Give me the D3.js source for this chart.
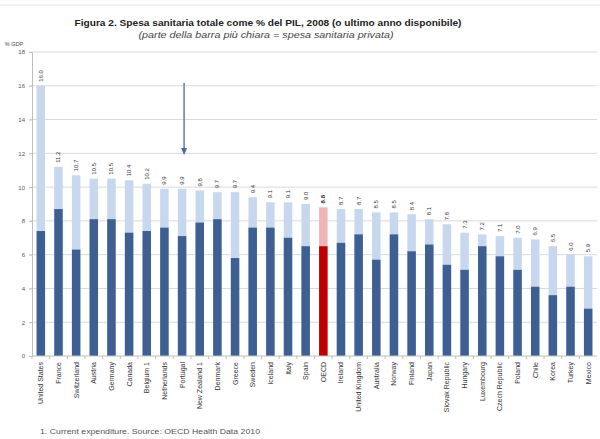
<!DOCTYPE html>
<html><head><meta charset="utf-8">
<script src="https://cdn.jsdelivr.net/npm/d3@7"></script>
<style>body{margin:0;background:#fff}</style>
</head><body>
<svg id="c" width="600" height="439"></svg>
<script>
const countries = ["United States","France","Switzerland","Austria","Germany","Canada","Belgium 1","Netherlands","Portugal","New Zealand 1","Denmark","Greece","Sweden","Iceland","Italy","Spain","OECD","Ireland","United Kingdom","Australia","Norway","Finland","Japan","Slovak Republic","Hungary","Luxembourg","Czech Republic","Poland","Chile","Korea","Turkey","Mexico"];
const totalSpend = [16.0,11.2,10.7,10.5,10.5,10.4,10.2,9.9,9.9,9.8,9.7,9.7,9.4,9.1,9.1,9.0,8.8,8.7,8.7,8.5,8.5,8.4,8.1,7.8,7.3,7.2,7.1,7.0,6.9,6.5,6.0,5.9];
const publicSpend = [7.4,8.7,6.3,8.1,8.1,7.3,7.4,7.6,7.1,7.9,8.1,5.8,7.6,7.6,7.0,6.5,6.5,6.7,7.2,5.7,7.2,6.2,6.6,5.4,5.1,6.5,5.9,5.1,4.1,3.6,4.1,2.8];
const yTicks = [0,2,4,6,8,10,12,14,16,18];
const title = "Figura 2. Spesa sanitaria totale come % del PIL, 2008 (o ultimo anno disponibile)";
const subtitle = "(parte della barra più chiara = spesa sanitaria privata)";
const footnote = "1. Current expenditure.   Source: OECD Health Data 2010";

const svg = d3.select("#c");
const font = "'Liberation Sans', Arial, sans-serif";
const x = d3.scaleBand().domain(countries).range([32, 597]).paddingInner(0.52).paddingOuter(0.26);
const y = d3.scaleLinear().domain([0, 18]).range([356, 52]);

svg.append("line").attr("x1",0).attr("x2",600).attr("y1",5).attr("y2",5).attr("stroke","#e6e6e6");

svg.append("g").selectAll("line").data(yTicks.filter(d=>d>0)).join("line")
  .attr("x1",30).attr("x2",597).attr("y1",d=>y(d)).attr("y2",d=>y(d))
  .attr("stroke","#d9d9d9").attr("stroke-width",1);

const ya = svg.append("g").attr("transform","translate(32,0)")
  .call(d3.axisLeft(y).tickValues(yTicks).tickSize(3).tickFormat(d3.format("d")));
ya.select(".domain").attr("stroke","#bfbfbf");
ya.selectAll(".tick line").attr("stroke","#bfbfbf");
ya.selectAll("text").attr("font-family",font).attr("font-size",6).attr("fill","#555").attr("x",-7);

svg.append("text").attr("x",14).attr("y",46).attr("font-family",font).attr("font-size",5.5)
  .attr("fill","#444").attr("text-anchor","middle").text("% GDP");

const isOECD = d => d === "OECD";
svg.append("g").selectAll("rect").data(countries).join("rect")
  .attr("x",d=>x(d)).attr("width",x.bandwidth())
  .attr("y",(d,i)=>y(totalSpend[i])).attr("height",(d,i)=>y(0)-y(totalSpend[i]))
  .attr("fill",d=>isOECD(d)?"#eeb4b6":"#c6d7ee");
svg.append("g").selectAll("rect").data(countries).join("rect")
  .attr("x",d=>x(d)).attr("width",x.bandwidth())
  .attr("y",(d,i)=>y(publicSpend[i])).attr("height",(d,i)=>y(0)-y(publicSpend[i]))
  .attr("fill",d=>isOECD(d)?"#c00000":"#3e5f92");

svg.append("line").attr("x1",32).attr("x2",597).attr("y1",y(0)).attr("y2",y(0)).attr("stroke","#bfbfbf");
svg.append("g").selectAll("line").data(countries).join("line")
  .attr("x1",d=>x(d)-x.step()*x.paddingInner()/2).attr("x2",d=>x(d)-x.step()*x.paddingInner()/2)
  .attr("y1",y(0)).attr("y2",y(0)+3).attr("stroke","#bfbfbf");

svg.append("g").selectAll("text").data(countries).join("text")
  .attr("transform",(d,i)=>`translate(${x(d)+x.bandwidth()/2+2},${y(totalSpend[i])-4}) rotate(-90)`)
  .attr("font-family",font).attr("font-size",6).attr("fill","#333")
  .attr("font-weight",d=>isOECD(d)?"bold":"normal")
  .text((d,i)=>totalSpend[i].toFixed(1));

svg.append("g").selectAll("text").data(countries).join("text")
  .attr("transform",d=>`translate(${x(d)+x.bandwidth()/2+2.5},${y(0)+6}) rotate(-90)`)
  .attr("text-anchor","end").attr("font-family",font).attr("font-size",7).attr("fill","#333")
  .text(d=>d);

const ax = x("Portugal")+x.bandwidth()/2+2;
svg.append("line").attr("x1",ax).attr("x2",ax).attr("y1",83).attr("y2",150)
  .attr("stroke","#4a6a9c").attr("stroke-width",1.3);
svg.append("path").attr("d",`M${ax-3},${148}L${ax+3},${148}L${ax},${155}Z`).attr("fill","#4a6a9c");

svg.append("text").attr("x",268).attr("y",26).attr("text-anchor","middle")
  .attr("font-family",font).attr("font-weight","bold").attr("font-size",9.5).attr("fill","#222")
  .attr("textLength",387).attr("lengthAdjust","spacingAndGlyphs").text(title);
svg.append("text").attr("x",266).attr("y",38).attr("text-anchor","middle")
  .attr("font-family",font).attr("font-style","italic").attr("font-size",8.5).attr("fill","#444")
  .attr("textLength",255).attr("lengthAdjust","spacingAndGlyphs").text(subtitle);
svg.append("text").attr("x",40).attr("y",434).attr("font-family",font).attr("font-size",7)
  .attr("fill","#555").attr("textLength",220).attr("lengthAdjust","spacingAndGlyphs").text(footnote);
</script>
</body></html>
